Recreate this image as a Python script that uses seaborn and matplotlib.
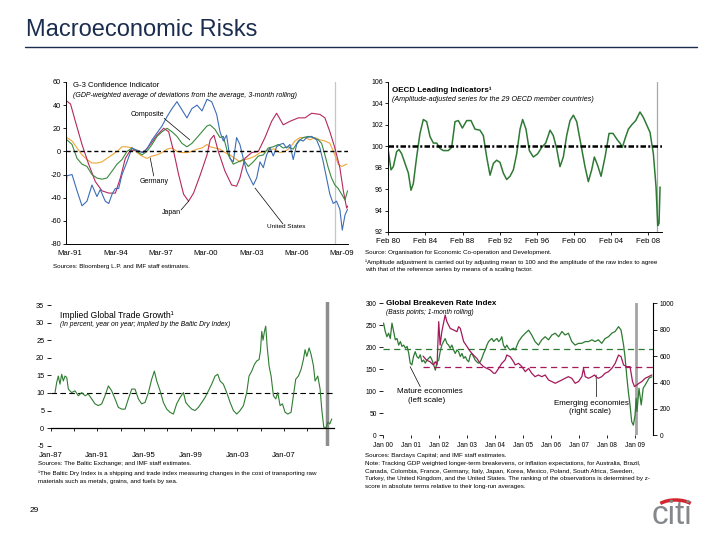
import matplotlib
matplotlib.use('Agg')
import matplotlib.pyplot as plt
from matplotlib.lines import Line2D
from matplotlib.patches import Arc
import seaborn as sns

# ---------------- data ----------------
# G-3 confidence indicator, fractional years
g3_us_t = [1990.9, 1990.96, 1991.3, 1991.63, 1991.96, 1992.29, 1992.62, 1992.95, 1993.17, 1993.5,
           1993.73, 1993.95, 1994.17, 1994.39, 1994.61, 1994.94, 1995.27, 1995.6, 1995.93, 1996.26,
           1996.6, 1996.93, 1997.26, 1997.59, 1997.92, 1998.25, 1998.58, 1998.91, 1999.24, 1999.58,
           1999.91, 2000.24, 2000.55, 2000.88, 2001.1, 2001.32, 2001.54, 2001.76, 2001.98, 2002.2,
           2002.42, 2002.64, 2002.86, 2003.08, 2003.31, 2003.53, 2003.75, 2003.97, 2004.19, 2004.41,
           2004.63, 2004.85, 2005.07, 2005.29, 2005.51, 2005.73, 2005.95, 2006.18, 2006.4, 2006.62,
           2006.84, 2007.17, 2007.5, 2007.72, 2007.94, 2008.16, 2008.38, 2008.6, 2008.82, 2009.04,
           2009.2, 2009.38, 2009.55]
g3_us_v = [-33, -21, -20, -34, -47, -43, -29, -39, -33, -43, -45, -37, -32, -32, -20, -9, 3, 1, -1, 2,
           10, 16, 22, 30, 37, 43, 36, 29, 37, 40, 35, 45, 43, 32, 17, 9, 14, -6, -9, 12,
           6, -6, -17, -23, -29, -23, -9, -14, -3, 3, -4, 4, 6, 7, 3, 6, -7, 6, 10, 9,
           12, 13, 10, 3, -9, -23, -37, -45, -43, -50, -68, -55, -50]

g3_comp_t = [1990.9, 1990.96, 1991.3, 1991.63, 1991.96, 1992.29, 1992.62, 1992.95, 1993.28, 1993.61,
             1993.95, 1994.28, 1994.61, 1994.94, 1995.27, 1995.6, 1995.93, 1996.26, 1996.6, 1996.93,
             1997.26, 1997.59, 1997.92, 1998.25, 1998.58, 1998.91, 1999.24, 1999.58, 1999.91, 2000.24,
             2000.44, 2000.77, 2001.1, 2001.32, 2001.65, 2001.98, 2002.31, 2002.64, 2002.97, 2003.31,
             2003.64, 2003.97, 2004.3, 2004.63, 2004.96, 2005.29, 2005.62, 2005.95, 2006.29, 2006.62,
             2006.95, 2007.28, 2007.61, 2007.83, 2008.05, 2008.27, 2008.49, 2008.71, 2008.93, 2009.16,
             2009.38, 2009.55]
g3_comp_v = [11, 10, 6, -6, -11, -13, -20, -23, -24, -23, -17, -11, -7, 0, 3, 0, -3, 0, 6, 13,
             17, 20, 17, 13, 7, 4, 7, 12, 17, 22, 23, 19, 12, 13, -3, -11, -9, -7, -13, -9,
             -4, -3, 3, 4, 6, 3, 4, 2, 9, 12, 13, 12, 10, 7, -3, -14, -23, -29, -32, -37,
             -42, -34]

g3_ger_t = [1990.9, 1990.96, 1991.3, 1991.63, 1991.96, 1992.29, 1992.62, 1992.95, 1993.28, 1993.61,
            1993.95, 1994.28, 1994.61, 1994.94, 1995.27, 1995.6, 1995.93, 1996.26, 1996.6, 1996.93,
            1997.26, 1997.59, 1997.92, 1998.25, 1998.58, 1998.91, 1999.24, 1999.58, 1999.91, 2000.24,
            2000.44, 2000.77, 2001.1, 2001.43, 2001.76, 2002.09, 2002.42, 2002.75, 2003.08, 2003.42,
            2003.75, 2004.08, 2004.41, 2004.74, 2005.07, 2005.4, 2005.73, 2006.06, 2006.4, 2006.73,
            2007.06, 2007.39, 2007.72, 2008.05, 2008.38, 2008.71, 2008.93, 2009.16, 2009.5]
g3_ger_v = [13, 12, 9, 3, -3, -7, -10, -10, -9, -6, -3, 0, 4, 4, 3, -1, -4, -6, -4, -3,
            -1, 2, 3, 0, -1, -1, 0, 2, 3, 6, 4, 3, 2, -1, -3, -6, -9, -7, -6, -4,
            -1, 0, 2, 2, -1, 0, 3, 9, 12, 12, 10, 12, 10, 9, 7, -3, -11, -13, -11]

g3_jpn_t = [1990.9, 1991.2, 1991.52, 1991.96, 1992.4, 1992.84, 1993.28, 1993.73, 1994.17, 1994.5,
            1994.83, 1995.16, 1995.6, 1996.04, 1996.48, 1996.93, 1997.37, 1997.7, 1998.03, 1998.36,
            1998.69, 1999.02, 1999.35, 1999.8, 2000.24, 2000.45, 2000.7, 2000.99, 2001.43, 2001.87,
            2002.2, 2002.42, 2002.75, 2003.2, 2003.64, 2004.08, 2004.52, 2004.85, 2005.29, 2005.73,
            2006.29, 2006.73, 2007.17, 2007.72, 2008.05, 2008.38, 2008.71, 2009.04, 2009.27, 2009.49,
            2009.58]
g3_jpn_v = [44, 41, 26, 6, -11, -26, -34, -36, -36, -23, -6, 1, 1, -1, 6, 14, 20, 17, 0, -20,
            -37, -43, -36, -20, -3, 10, 14, 0, -17, -29, -30, -23, -6, -1, 0, 12, 26, 33, 23, 26,
            29, 29, 33, 32, 29, 17, 3, -14, -34, -49, -47]

g3_ticks = [1991.17, 1994.17, 1997.17, 2000.17, 2003.17, 2006.17, 2009.17]
g3_labels = ['Mar-91', 'Mar-94', 'Mar-97', 'Mar-00', 'Mar-03', 'Mar-06', 'Mar-09']
g3_yticks = [60, 40, 20, 0, -20, -40, -60, -80]
g3_event = 2008.73

# OECD leading indicator
oecd_t = [1980.08, 1980.37, 1980.62, 1980.98, 1981.23, 1981.52, 1981.88, 1982.24, 1982.52, 1982.77,
          1983.13, 1983.49, 1983.85, 1984.21, 1984.57, 1984.93, 1985.29, 1985.65, 1986.0, 1986.54,
          1986.9, 1987.26, 1987.62, 1988.05, 1988.52, 1988.98, 1989.41, 1989.95, 1990.31, 1990.67,
          1991.03, 1991.39, 1991.74, 1992.1, 1992.46, 1992.82, 1993.18, 1993.54, 1993.9, 1994.26,
          1994.54, 1994.9, 1995.26, 1995.69, 1996.16, 1996.59, 1997.02, 1997.49, 1997.84, 1998.2,
          1998.56, 1998.92, 1999.28, 1999.64, 2000.0, 2000.36, 2000.89, 2001.25, 2001.61, 2001.97,
          2002.26, 2002.62, 2002.98, 2003.41, 2003.84, 2004.27, 2004.73, 2005.02, 2005.27, 2005.56,
          2005.92, 2006.28, 2006.71, 2007.17, 2007.53, 2007.89, 2008.25, 2008.61, 2008.9, 2009.08,
          2009.22, 2009.33]
oecd_v = [99.6, 97.8, 98.1, 99.5, 99.7, 99.3, 98.4, 97.5, 95.9, 96.5,
          99.0, 101.2, 102.5, 102.3, 100.9, 100.3, 100.3, 99.8, 99.6, 99.6,
          99.9, 102.3, 102.4, 101.7, 102.4, 102.4, 101.6, 101.5, 101.0, 99.0,
          97.3, 98.4, 98.7, 98.5, 97.5, 96.9, 97.2, 97.8, 99.3, 101.6,
          102.5, 101.6, 99.6, 99.0, 99.3, 99.9, 100.3, 101.5, 101.0, 99.8,
          98.1, 99.0, 101.0, 102.4, 102.9, 102.3, 99.8, 98.1, 96.7, 97.8,
          99.0, 98.2, 97.2, 99.0, 101.2, 101.2, 100.6, 100.3, 99.9, 100.7,
          101.6, 102.0, 102.4, 103.2, 102.7, 102.0, 101.3, 99.3, 96.2, 92.6,
          92.8, 96.2]
oecd_ticks = [1980.08, 1984.08, 1988.08, 1992.08, 1996.08, 2000.08, 2004.08, 2008.08]
oecd_labels = ['Feb 80', 'Feb 84', 'Feb 88', 'Feb 92', 'Feb 96', 'Feb 00', 'Feb 04', 'Feb 08']
oecd_event = 2008.97

# implied global trade growth (position on the slide's time axis)
trade_t = [1987.39, 1987.53, 1987.67, 1987.81, 1987.96, 1988.1, 1988.24, 1988.39, 1988.53, 1988.81,
           1989.1, 1989.39, 1989.67, 1989.96, 1990.24, 1990.53, 1990.81, 1991.1, 1991.39, 1991.67,
           1991.96, 1992.24, 1992.53, 1992.81, 1993.1, 1993.39, 1993.67, 1993.96, 1994.24, 1994.53,
           1994.81, 1995.1, 1995.39, 1995.67, 1995.9, 1996.1, 1996.39, 1996.67, 1996.96, 1997.24,
           1997.53, 1997.81, 1998.1, 1998.39, 1998.59, 1998.81, 1999.1, 1999.39, 1999.67, 1999.96,
           2000.24, 2000.53, 2000.81, 2001.1, 2001.33, 2001.53, 2001.81, 2002.1, 2002.39, 2002.67,
           2002.96, 2003.24, 2003.53, 2003.81, 2004.01, 2004.24, 2004.47, 2004.67, 2004.87, 2004.99,
           2005.1, 2005.21, 2005.33, 2005.44, 2005.56, 2005.73, 2005.9, 2006.1, 2006.3, 2006.47,
           2006.67, 2006.87, 2007.1, 2007.33, 2007.61, 2007.81, 2008.01, 2008.24, 2008.47, 2008.67,
           2008.81, 2008.96, 2009.16, 2009.33, 2009.53, 2009.67, 2009.9, 2010.1, 2010.24, 2010.41,
           2010.59, 2010.76, 2010.93, 2011.1]
trade_v = [10.1, 13.0, 14.8, 12.5, 15.3, 13.4, 14.8, 14.4, 11.1, 10.1,
           10.6, 9.2, 10.1, 9.2, 9.7, 8.3, 6.9, 6.4, 6.9, 9.2,
           12.0, 10.6, 8.3, 5.9, 5.4, 5.4, 8.3, 11.1, 11.1, 8.3,
           6.9, 7.3, 10.1, 13.9, 16.2, 13.4, 10.6, 7.3, 5.4, 4.5,
           4.0, 6.9, 8.7, 10.1, 7.3, 6.4, 5.4, 5.0, 5.9, 7.3,
           8.7, 10.6, 12.5, 14.8, 15.3, 13.4, 12.5, 10.1, 7.3, 5.0,
           4.0, 5.0, 6.4, 10.1, 14.8, 16.2, 18.1, 19.1, 19.5, 22.0,
           27.5, 25.0, 27.5, 29.0, 23.3, 17.6, 14.8, 9.2, 8.3, 10.1,
           6.4, 6.9, 4.5, 4.0, 4.5, 9.2, 13.9, 14.8, 16.7, 19.5,
           22.3, 20.4, 22.8, 20.9, 17.7, 13.4, 14.8, 11.1, 5.4, 0.3,
           0.0, 1.7, 1.2, 2.6]
trade_ticks = [1987, 1991, 1995, 1999, 2003, 2007]
trade_labels = ['Jan-87', 'Jan-91', 'Jan-95', 'Jan-99', 'Jan-03', 'Jan-07']
trade_event = 2010.67

# global breakeven rate index
be_mat_t = [2000.02, 2000.08, 2000.14, 2000.2, 2000.26, 2000.32, 2000.38, 2000.44, 2000.5, 2000.56,
            2000.62, 2000.68, 2000.74, 2000.8, 2000.86, 2000.92, 2000.97, 2001.03, 2001.09, 2001.15,
            2001.21, 2001.27, 2001.33, 2001.39, 2001.45, 2001.51, 2001.57, 2001.63, 2001.69, 2001.75,
            2001.81, 2001.87, 2001.93, 2001.99, 2002.04, 2002.1, 2002.16, 2002.22, 2002.28, 2002.34,
            2002.4, 2002.46, 2002.52, 2002.58, 2002.64, 2002.7, 2002.76, 2002.82, 2002.88, 2002.94,
            2003.0, 2003.06, 2003.12, 2003.17, 2003.23, 2003.29, 2003.35, 2003.41, 2003.47, 2003.53,
            2003.59, 2003.65, 2003.71, 2003.77, 2003.83, 2003.89, 2003.95, 2004.01, 2004.07, 2004.13,
            2004.19, 2004.24, 2004.3, 2004.36, 2004.42, 2004.48, 2004.54, 2004.66, 2004.72, 2004.84,
            2004.96, 2005.08, 2005.2, 2005.31, 2005.43, 2005.55, 2005.67, 2005.79, 2005.91, 2006.03,
            2006.15, 2006.27, 2006.39, 2006.5, 2006.62, 2006.74, 2006.86, 2006.98, 2007.1, 2007.22,
            2007.34, 2007.46, 2007.57, 2007.69, 2007.81, 2007.93, 2008.05, 2008.17, 2008.29, 2008.41,
            2008.5, 2008.59, 2008.64, 2008.7, 2008.76, 2008.82, 2008.88, 2008.94, 2009.0, 2009.04,
            2009.07, 2009.14, 2009.22, 2009.29, 2009.36, 2009.43, 2009.5, 2009.6]
be_mat_v = [255, 236, 224, 232, 220, 255, 236, 217, 220, 205,
            213, 202, 205, 198, 202, 186, 164, 160, 179, 190,
            179, 175, 183, 167, 171, 164, 171, 175, 179, 171,
            160, 148, 167, 171, 190, 205, 213, 220, 209, 205,
            198, 205, 194, 186, 194, 190, 179, 186, 175, 179,
            171, 167, 183, 186, 179, 171, 167, 164, 167, 175,
            186, 194, 205, 213, 217, 220, 213, 217, 220, 213,
            217, 224, 205, 198, 205, 198, 194, 198, 194, 213,
            224, 232, 239, 228, 213, 205, 217, 224, 217, 228,
            232, 224, 236, 228, 232, 213, 205, 209, 209, 213,
            213, 217, 213, 217, 209, 220, 224, 232, 236, 247,
            239, 205, 179, 137, 99, 69, 31, 23, 46, 84,
            54, 107, 69, 107, 114, 122, 130, 133]
be_em_t = [2001.43, 2001.55, 2001.68, 2001.8, 2001.87, 2001.93, 2001.99, 2002.04, 2002.1, 2002.22,
           2002.28, 2002.4, 2002.52, 2002.64, 2002.7, 2002.76, 2002.82, 2002.88, 2003.0, 2003.12,
           2003.23, 2003.35, 2003.47, 2003.59, 2003.71, 2003.83, 2003.95, 2004.01, 2004.13, 2004.24,
           2004.36, 2004.42, 2004.54, 2004.66, 2004.72, 2004.84, 2004.96, 2005.08, 2005.2, 2005.31,
           2005.43, 2005.55, 2005.67, 2005.79, 2005.91, 2006.03, 2006.15, 2006.27, 2006.39, 2006.5,
           2006.62, 2006.74, 2006.86, 2006.98, 2007.1, 2007.16, 2007.22, 2007.34, 2007.46, 2007.55,
           2007.62, 2007.69, 2007.81, 2007.93, 2008.05, 2008.17, 2008.29, 2008.41, 2008.5, 2008.59,
           2008.7, 2008.82, 2008.91, 2008.98, 2009.06, 2009.14, 2009.24, 2009.36, 2009.48, 2009.6]
be_em_v = [600, 570, 557, 533, 558, 533, 861, 683, 785, 911,
           861, 810, 798, 785, 823, 810, 760, 710, 672, 634,
           608, 583, 545, 520, 507, 495, 470, 470, 507, 545,
           571, 608, 596, 558, 533, 545, 520, 482, 507, 470,
           444, 457, 444, 457, 419, 407, 394, 407, 419, 432,
           444, 432, 394, 407, 444, 507, 444, 432, 444, 457,
           440, 432, 444, 470, 482, 507, 545, 608, 596, 533,
           520, 520, 407, 369, 381, 394, 407, 432, 444, 457]
be_mat_avg = 197
be_em_avg = 520
be_em_avg_start = 2001.43
be_ticks = [2000, 2001, 2002, 2003, 2004, 2005, 2006, 2007, 2008, 2009]
be_labels = ['Jan 00', 'Jan 01', 'Jan 02', 'Jan 03', 'Jan 04', 'Jan 05', 'Jan 06', 'Jan 07',
             'Jan 08', 'Jan 09']
be_event = 2009.04

# ---------------- drawing ----------------
sns.set_theme(style='white')
plt.rcParams['font.family'] = ['Liberation Sans', 'DejaVu Sans']
plt.rcParams['text.color'] = 'black'
plt.rcParams['axes.edgecolor'] = 'black'
plt.rcParams['axes.unicode_minus'] = False

W, H = 720, 540
fig = plt.figure(figsize=(7.2, 5.4), dpi=100)
fig.patch.set_facecolor('white')


def box(l, t, r, b):
    return [l / W, 1 - b / H, (r - l) / W, (b - t) / H]


def ftxt(x, y, s, size=4.5, **kw):
    kw.setdefault('va', 'center')
    fig.text(x / W, 1 - y / H, s, fontsize=size, **kw)


def line(ax, t, v, color, lw):
    sns.lineplot(x=t, y=v, ax=ax, color=color, linewidth=lw, estimator=None,
                 sort=False, legend=False)
    ax.set_xlabel('')
    ax.set_ylabel('')


def leader(ax, p0, p1):
    ax.annotate('', xy=p1, xytext=p0,
                arrowprops=dict(arrowstyle='-', lw=0.5, color='black', shrinkA=0, shrinkB=0))


navy = '#1b2d4f'
ftxt(26, 30, 'Macroeconomic Risks', size=17, color=navy)
fig.add_artist(Line2D([25 / W, 697 / W], [1 - 47 / H, 1 - 47 / H], transform=fig.transFigure,
                      color=navy, lw=1.0))

# --- panel 1: G-3 confidence ---
ax1 = fig.add_axes(box(66, 82, 348, 244))
ax1.axvline(g3_event, color='#c6c6c6', lw=0.9, zorder=0)
line(ax1, g3_ger_t, g3_ger_v, '#f0a63a', 0.8)
line(ax1, g3_jpn_t, g3_jpn_v, '#b5285f', 0.8)
line(ax1, g3_comp_t, g3_comp_v, '#3a8a3e', 0.8)
line(ax1, g3_us_t, g3_us_v, '#3d6db6', 0.8)
ax1.axhline(0, color='black', lw=1.0, ls=(0, (3, 2)), zorder=3)
ax1.set_xlim(1990.9, 2009.58)
ax1.set_ylim(-80, 60)
ax1.set_xticks(g3_ticks, g3_labels)
ax1.set_yticks(g3_yticks)
ax1.tick_params(axis='y', left=True, length=2, width=0.6, pad=1.5, labelsize=5.3, colors='black')
ax1.tick_params(axis='x', bottom=True, length=0, pad=4, labelsize=5.6, colors='black')
for s in ['top', 'right']:
    ax1.spines[s].set_visible(False)
for s in ['left', 'bottom']:
    ax1.spines[s].set_linewidth(0.7)
ax1.text(1995.15, 32.3, 'Composite', fontsize=5, va='center')
leader(ax1, (1997.4, 28.6), (1999.1, 10))
ax1.text(1996.73, -25.6, 'Germany', fontsize=5, va='center', ha='center')
leader(ax1, (1996.71, -21.2), (1996.48, -5.7))
ax1.text(1997.85, -53.2, 'Japan', fontsize=5, va='center', ha='center')
leader(ax1, (1998.52, -50.6), (1999.03, -42.9))
ax1.text(2005.47, -65.3, 'United States', fontsize=4.6, va='center', ha='center')
leader(ax1, (2005.27, -62.7), (2003.42, -31.6))
ftxt(73, 85.7, 'G-3 Confidence Indicator', size=5.6)
ftxt(73, 95.5, '(GDP-weighted average of deviations from the average, 3-month rolling)', size=5.0,
     style='italic')
ftxt(53, 266.7, 'Sources: Bloomberg L.P. and IMF staff estimates.')

# --- panel 2: OECD leading indicators ---
ax2 = fig.add_axes(box(388.3, 82, 662, 232))
ax2.axvline(oecd_event, color='#a8a8a8', lw=0.9, zorder=0)
line(ax2, oecd_t, oecd_v, '#2e7a34', 1.1)
ax2.axhline(100, color='black', lw=1.8, ls=(0, (2.2, 0.9, 0.8, 0.9)), zorder=3)
ax2.set_xlim(1980.08, 2009.54)
ax2.set_ylim(92, 106)
ax2.set_xticks(oecd_ticks, oecd_labels)
ax2.set_yticks([92, 94, 96, 98, 100, 102, 104, 106])
ax2.tick_params(axis='both', bottom=True, left=True, length=2, width=0.6, pad=2, colors='black')
ax2.tick_params(axis='y', labelsize=5.0)
ax2.tick_params(axis='x', labelsize=5.6, pad=2.5)
for s in ['top', 'right']:
    ax2.spines[s].set_visible(False)
for s in ['left', 'bottom']:
    ax2.spines[s].set_linewidth(0.7)
ftxt(392.3, 90, 'OECD Leading Indicators¹', size=5.8, weight='bold')
ftxt(392.3, 99.3, '(Amplitude-adjusted series for the 29 OECD member countries)', size=5.1,
     style='italic')
ftxt(365, 252.7, 'Source: Organisation for Economic Co-operation and Development.')
ftxt(365, 262.7, '¹Amplitude adjustment is carried out by adjusting mean to 100 and the amplitude '
     'of the raw index to agree')
ftxt(365, 269.7, 'with that of the reference series by means of a scaling factor.')

# --- panel 3: implied global trade growth ---
ax3 = fig.add_axes(box(50.5, 301.5, 334, 445.7))
ax3.axvline(trade_event, color='#8e8e8e', lw=2.5, zorder=0)
ax3.axhline(10, color='black', lw=0.8, ls=(0, (5, 3)), zorder=1)
line(ax3, trade_t, trade_v, '#2f7d32', 0.8)
ax3.set_xlim(1987.0, 2011.29)
ax3.set_ylim(-5, 36)
ax3.spines['bottom'].set_position(('data', 0))
ax3.spines['bottom'].set_linewidth(0.9)
for s in ['top', 'right', 'left']:
    ax3.spines[s].set_visible(False)
ax3.set_xticks(trade_ticks, trade_labels)
ax3.set_xticks([1989, 1993, 1997, 2001, 2005, 2009], minor=True)
ax3.set_yticks([-5, 0, 5, 10, 15, 20, 25, 30, 35])
ax3.tick_params(axis='y', left=True, length=3, width=0.6, pad=1.5, labelsize=5.3, colors='black')
ax3.tick_params(axis='x', which='both', bottom=True, length=2, width=0.6, pad=15.5,
                labelsize=5.6, colors='black')
ftxt(60, 315, 'Implied Global Trade Growth¹', size=6.2)
ftxt(60, 325, '(In percent, year on year; implied by the Baltic Dry Index)', size=4.9,
     style='italic')
ftxt(38, 464, 'Sources: The Baltic Exchange; and IMF staff estimates.')
ftxt(38, 473.3, '¹The Baltic Dry Index is a shipping and trade index measuring changes in the cost '
     'of transporting raw')
ftxt(38, 481.7, 'materials such as metals, grains, and fuels by sea.')

# --- panel 4: global breakeven rate index ---
ax4 = fig.add_axes(box(383, 303.3, 652.7, 435.3))
ax4r = ax4.twinx()
ax4.axvline(be_event, color='#a4a4a4', lw=2.0, zorder=0)
ax4.axhline(be_mat_avg, color='#2d7a32', lw=0.9, ls=(0, (5, 3.5)), zorder=1)
line(ax4, be_mat_t, be_mat_v, '#2d7a32', 0.9)
ax4r.hlines(be_em_avg, be_em_avg_start, 2009.63, color='#a3195b', lw=0.9, ls=(0, (5, 3.5)))
line(ax4r, be_em_t, be_em_v, '#a3195b', 0.9)
ax4.set_xlim(2000.0, 2009.63)
ax4.set_ylim(0, 300)
ax4r.set_ylim(0, 1000)
ax4.set_xticks(be_ticks, be_labels)
ax4.set_yticks([0, 50, 100, 150, 200, 250, 300])
ax4r.set_yticks([0, 200, 400, 600, 800, 1000])
ax4.tick_params(axis='y', left=True, length=3, width=0.6, pad=1.5, labelsize=4.8, colors='black')
ax4.tick_params(axis='x', bottom=True, length=2.5, width=0.6, pad=2, labelsize=4.8,
                colors='black')
ax4r.tick_params(axis='y', right=True, length=3, width=0.6, pad=2, labelsize=4.8,
                 colors='black')
for s in ['top', 'right', 'left', 'bottom']:
    ax4.spines[s].set_visible(False)
for s in ['top', 'left', 'bottom']:
    ax4r.spines[s].set_visible(False)
ax4r.spines['right'].set_linewidth(0.8)
ax4.text(2001.69, 99.1, 'Mature economies', fontsize=5.8, ha='center', va='center')
ax4.text(2001.54, 79.5, '(left scale)', fontsize=5.8, ha='center', va='center')
leader(ax4, (2001.33, 110.5), (2000.97, 155.9))
ax4.text(2007.43, 72.5, 'Emerging economies', fontsize=5.8, ha='center', va='center')
ax4.text(2007.4, 55.2, '(right scale)', fontsize=5.8, ha='center', va='center')
leader(ax4, (2007.63, 87.7), (2007.61, 137))
ftxt(386, 303.3, 'Global Breakeven Rate Index', size=5.8, weight='bold')
ftxt(386, 312.3, '(Basis points; 1-month rolling)', size=4.8, style='italic')
ftxt(365, 455.7, 'Sources: Barclays Capital; and IMF staff estimates.')
ftxt(365, 463.3, 'Note: Tracking GDP weighted longer-term breakevens, or inflation expectations, '
     'for Australia, Brazil,')
ftxt(365, 471, 'Canada, Colombia, France, Germany, Italy, Japan, Korea, Mexico, Poland, South '
     'Africa, Sweden,')
ftxt(365, 478.7, 'Turkey, the United Kingdom, and the United States. The ranking of the '
     'observations is determined by z-')
ftxt(365, 486.3, 'score in absolute terms relative to their long-run averages.')

# --- footer ---
ftxt(30, 511, '29', size=6)
ftxt(672, 516, 'citi', size=24, ha='center', color='#85888b')
fig.add_artist(Arc((675.5 / W, 1 - 510 / H), 40 / W, 20 / H, theta1=30, theta2=150,
                   transform=fig.transFigure, color='#d4262f', lw=2.5))

fig.savefig('out.png', dpi=100)
